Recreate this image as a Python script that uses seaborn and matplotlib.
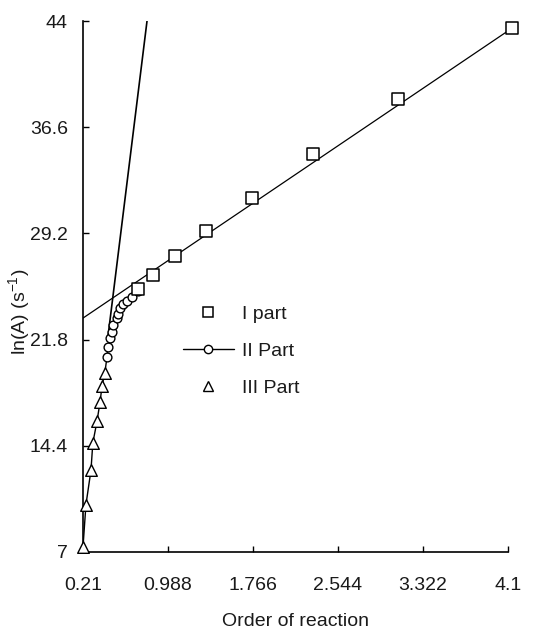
import numpy as np
import pandas as pd
import matplotlib
matplotlib.use("Agg")
import matplotlib.pyplot as plt
from matplotlib.lines import Line2D
import seaborn as sns

# ---- data ----
part1_x = [0.713, 0.851, 1.052, 1.336, 1.757, 2.315, 3.093, 4.137]
part1_y = [25.3, 26.3, 27.6, 29.35, 31.7, 34.7, 38.6, 43.5]

part2_x = [0.43, 0.44, 0.457, 0.475, 0.485, 0.52, 0.53, 0.549, 0.576, 0.613, 0.658, 0.713]
part2_y = [20.6, 21.3, 21.9, 22.3, 22.8, 23.3, 23.6, 24.0, 24.3, 24.5, 24.8, 25.2]

part3_x = [0.21, 0.237, 0.283, 0.30, 0.338, 0.366, 0.384, 0.41]
part3_y = [7.35, 10.3, 12.7, 14.6, 16.1, 17.45, 18.55, 19.5]

fit1_x = [0.21, 4.137]
fit1_y = [23.3, 43.5]
fit2_x = [0.44, 0.796]
fit2_y = [22.1, 44.0]

xticks = [0.21, 0.988, 1.766, 2.544, 3.322, 4.1]
yticks = [7, 14.4, 21.8, 29.2, 36.6, 44]
xtick_labels = ["0.21", "0.988", "1.766", "2.544", "3.322", "4.1"]
ytick_labels = ["7", "14.4", "21.8", "29.2", "36.6", "44"]
legend_labels = ["I part", "II Part", "III Part"]

sns.set_style("ticks")
plt.rcParams['font.family'] = ['Liberation Sans', 'DejaVu Sans']
plt.rcParams['mathtext.fontset'] = 'custom'
plt.rcParams['mathtext.rm'] = 'Liberation Sans'
fs = 14
tc = "#1a1a1a"

fig = plt.figure(figsize=(5.4, 6.31), dpi=100)
ax = fig.add_axes([0.1537, 0.1252, 0.787, 0.8415])

# lines
low_x = part3_x + part2_x
low_y = part3_y + part2_y
df_low = pd.DataFrame({"x": low_x, "y": low_y})
sns.lineplot(data=df_low, x="x", y="y", sort=False, color="black", lw=1.0, ax=ax, estimator=None)
sns.lineplot(x=fit1_x, y=fit1_y, color="black", lw=0.9, ax=ax, estimator=None)
sns.lineplot(x=fit2_x, y=fit2_y, color="black", lw=1.2, ax=ax, estimator=None)

# markers
sns.scatterplot(x=part2_x, y=part2_y, marker="o", s=40, facecolor="white",
                edgecolor="black", linewidth=1.0, ax=ax, zorder=4, clip_on=False)
sns.scatterplot(x=part3_x, y=part3_y, marker="^", s=70, facecolor="white",
                edgecolor="black", linewidth=1.0, ax=ax, zorder=5, clip_on=False)
sns.scatterplot(x=part1_x, y=part1_y, marker="s", s=75, facecolor="white",
                edgecolor="black", linewidth=1.1, ax=ax, zorder=5, clip_on=False)

ax.set_xlim(0.21, 4.1)
ax.set_ylim(7, 44)
ax.set_xticks(xticks)
ax.set_xticklabels(xtick_labels, fontsize=fs, color=tc)
ax.set_yticks(yticks)
ax.set_yticklabels(ytick_labels, fontsize=fs, color=tc)
ax.tick_params(direction="in", length=4, width=1.0, color="black")
ax.tick_params(axis="x", pad=18)
ax.tick_params(axis="y", pad=11)
for s in ["top", "right"]:
    ax.spines[s].set_visible(False)
for s in ["left", "bottom"]:
    ax.spines[s].set_color("black")
    ax.spines[s].set_linewidth(1.2)

ax.set_xlabel("Order of reaction", fontsize=fs, labelpad=14, color=tc)
ax.set_ylabel("ln(A) (s$^{-1}$)", fontsize=fs, color=tc)
ax.yaxis.set_label_coords(-0.118, 0.452)

handles = [
    Line2D([], [], marker="s", ls="none", mfc="white", mec="black", ms=7.5, mew=1.1),
    Line2D([], [], marker="o", ls="-", color="black", mfc="white", mec="black", ms=6, mew=1.0, lw=1.0),
    Line2D([], [], marker="^", ls="none", mfc="white", mec="black", ms=7.5, mew=1.0),
]
leg = ax.legend(handles, legend_labels, frameon=False, fontsize=fs,
                loc="upper left", bbox_to_anchor=(183 / 540, 1 - 305 / 631),
                bbox_transform=fig.transFigure, borderpad=0, borderaxespad=0,
                handlelength=2.6, labelspacing=1.0, handletextpad=0.45)
for t in leg.get_texts():
    t.set_color(tc)

fig.savefig("out.png", dpi=100)
